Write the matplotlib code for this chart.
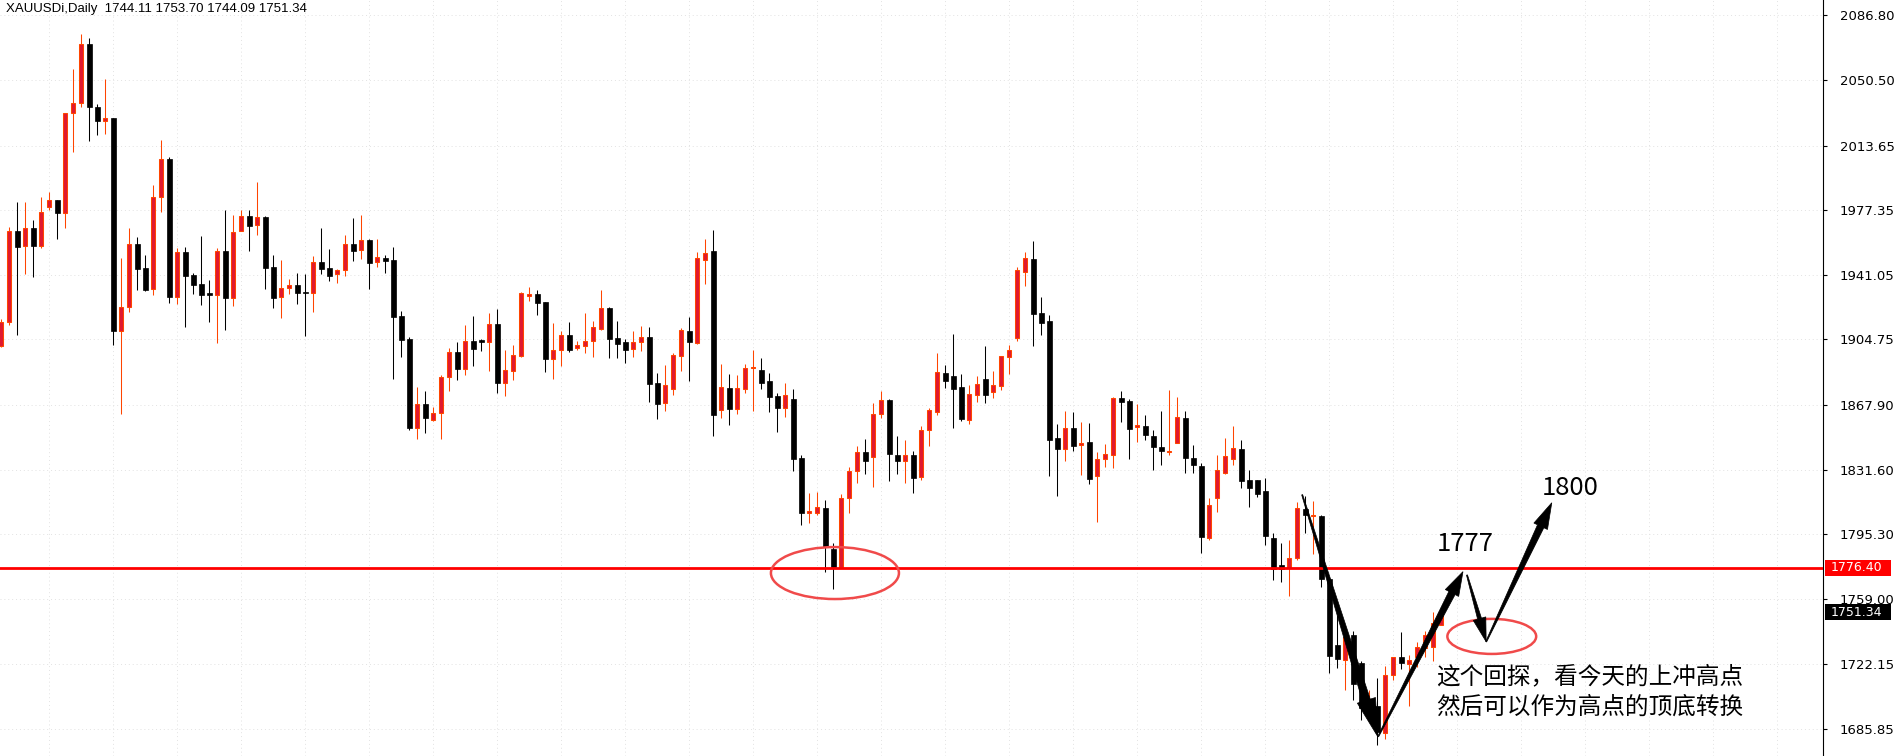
import numpy as np
import matplotlib
matplotlib.use("Agg")
import matplotlib.pyplot as plt
from matplotlib.patches import Polygon, Rectangle, Ellipse
from matplotlib.transforms import IdentityTransform, blended_transform_factory

# daily XAUUSDi candles (oldest first)
opens = [1901.1, 1914.4, 1965.5, 1957.1, 1967.2, 1957.5, 1979.0, 1983.0, 1976.0, 2031.9,
         2037.5, 2070.6, 2035.2, 2027.7, 2029.0, 1909.7, 1922.8, 1958.2, 1944.7, 1933.0,
         1984.7, 2006.0, 1928.5, 1953.8, 1940.8, 1935.9, 1930.3, 1929.9, 1954.3, 1928.2,
         1965.5, 1973.9, 1968.9, 1973.4, 1945.3, 1928.4, 1933.5, 1935.3, 1931.4, 1930.7,
         1948.1, 1944.9, 1941.3, 1943.6, 1958.4, 1954.8, 1960.6, 1948.1, 1950.3, 1949.4,
         1917.9, 1905.0, 1855.2, 1868.5, 1859.7, 1863.2, 1883.5, 1897.5, 1888.3, 1903.9,
         1904.4, 1903.5, 1913.4, 1880.5, 1887.2, 1895.6, 1929.0, 1930.3, 1925.8, 1893.9,
         1898.6, 1907.2, 1900.1, 1901.2, 1903.7, 1910.8, 1922.4, 1905.6, 1903.3, 1899.2,
         1903.1, 1906.1, 1880.3, 1868.8, 1877.1, 1895.6, 1909.5, 1902.7, 1949.2, 1954.4,
         1864.9, 1877.5, 1865.8, 1877.1, 1888.5, 1887.6, 1881.4, 1873.0, 1866.0, 1871.1,
         1838.1, 1807.5, 1807.4, 1809.8, 1786.8, 1777.1, 1815.5, 1830.6, 1841.3, 1838.5,
         1862.7, 1870.7, 1839.6, 1836.6, 1839.6, 1827.6, 1853.7, 1864.2, 1885.7, 1884.2,
         1877.9, 1859.3, 1873.4, 1882.4, 1875.4, 1878.4, 1894.7, 1905.4, 1942.5, 1949.8,
         1919.5, 1915.1, 1849.2, 1843.4, 1854.8, 1845.3, 1847.2, 1828.2, 1837.8, 1839.7,
         1871.7, 1870.2, 1855.4, 1856.0, 1850.5, 1844.4, 1841.6, 1846.8, 1860.6, 1838.2,
         1833.7, 1793.4, 1815.9, 1829.9, 1837.8, 1843.0, 1825.8, 1825.8, 1819.4, 1793.0,
         1777.9, 1776.2, 1781.8, 1809.7, 1805.3, 1805.6, 1770.4, 1733.1, 1724.7, 1738.5,
         1722.8, 1697.0, 1698.8, 1683.5, 1716.0, 1726.5, 1722.2, 1726.2, 1731.5, 1731.8,
         1744.11]
highs = [1916.1, 1967.8, 1982.0, 1982.0, 1971.9, 1984.8, 1987.6, 1983.0, 2031.9, 2056.6,
         2076.4, 2074.2, 2037.1, 2051.0, 2029.0, 1950.6, 1967.4, 1962.4, 1952.1, 1991.6,
         2016.9, 2007.3, 1956.2, 1956.7, 1941.9, 1962.9, 1938.2, 1956.1, 1977.5, 1974.7,
         1977.5, 1977.5, 1993.2, 1974.1, 1952.0, 1949.4, 1938.7, 1942.1, 1941.5, 1951.6,
         1967.4, 1955.6, 1944.3, 1963.4, 1973.0, 1974.7, 1961.2, 1961.0, 1952.2, 1956.7,
         1920.5, 1906.1, 1878.0, 1875.8, 1866.8, 1885.0, 1899.9, 1903.3, 1912.9, 1917.9,
         1905.2, 1919.6, 1921.9, 1898.8, 1901.6, 1931.4, 1934.2, 1932.5, 1925.8, 1914.0,
         1909.5, 1914.6, 1903.9, 1919.6, 1915.1, 1932.5, 1923.0, 1915.1, 1904.8, 1909.5,
         1912.3, 1911.7, 1885.9, 1890.4, 1897.1, 1911.2, 1917.4, 1953.9, 1961.2, 1966.2,
         1890.9, 1885.3, 1884.8, 1891.0, 1899.0, 1894.3, 1885.9, 1874.6, 1880.3, 1876.9,
         1839.6, 1818.3, 1819.0, 1814.5, 1790.4, 1817.9, 1832.9, 1844.7, 1848.6, 1869.0,
         1875.6, 1871.3, 1850.3, 1848.2, 1842.0, 1855.9, 1866.1, 1897.0, 1890.4, 1907.8,
         1885.4, 1879.2, 1884.2, 1901.1, 1887.1, 1895.3, 1901.5, 1945.3, 1953.9, 1960.1,
         1928.6, 1918.3, 1857.3, 1864.4, 1864.0, 1858.4, 1857.8, 1841.4, 1846.0, 1872.4,
         1875.8, 1871.3, 1868.5, 1862.3, 1853.9, 1864.6, 1876.4, 1872.4, 1864.6, 1845.5,
         1835.4, 1815.9, 1839.9, 1849.4, 1856.2, 1848.3, 1831.4, 1825.8, 1826.9, 1796.0,
         1790.4, 1792.1, 1813.4, 1816.8, 1814.2, 1806.0, 1771.0, 1749.9, 1740.0, 1741.1,
         1724.0, 1707.8, 1714.7, 1721.3, 1726.5, 1740.4, 1727.5, 1735.0, 1741.2, 1751.8,
         1753.70]
lows = [1900.4, 1913.1, 1907.5, 1941.6, 1940.1, 1956.2, 1977.7, 1961.2, 1967.6, 2010.3,
        2035.6, 2016.5, 2019.7, 2020.2, 1901.9, 1862.9, 1920.4, 1932.6, 1932.0, 1930.0,
        1976.4, 1925.5, 1924.9, 1912.0, 1930.3, 1924.1, 1914.6, 1902.9, 1910.1, 1923.7,
        1965.5, 1954.6, 1963.6, 1933.3, 1922.6, 1917.0, 1930.5, 1924.9, 1906.9, 1920.4,
        1941.7, 1937.8, 1936.7, 1940.4, 1949.0, 1950.1, 1933.3, 1945.6, 1942.3, 1882.5,
        1895.1, 1854.1, 1849.0, 1852.4, 1858.9, 1849.0, 1876.0, 1882.1, 1885.0, 1890.0,
        1898.4, 1887.2, 1874.8, 1873.2, 1882.0, 1895.1, 1926.5, 1918.5, 1886.5, 1882.5,
        1890.0, 1897.9, 1899.0, 1897.1, 1895.1, 1910.1, 1894.5, 1894.5, 1891.7, 1895.1,
        1898.5, 1869.8, 1860.0, 1864.7, 1873.7, 1887.2, 1881.6, 1902.4, 1936.1, 1850.7,
        1860.8, 1856.9, 1863.0, 1874.5, 1864.7, 1877.1, 1864.0, 1852.7, 1861.3, 1831.0,
        1800.7, 1801.8, 1805.9, 1774.2, 1764.3, 1776.3, 1807.4, 1823.9, 1829.3, 1822.0,
        1860.8, 1825.4, 1828.9, 1824.3, 1818.6, 1825.8, 1845.1, 1862.5, 1877.7, 1855.2,
        1859.1, 1857.5, 1869.8, 1869.3, 1872.1, 1876.6, 1885.6, 1903.7, 1935.0, 1901.3,
        1907.3, 1828.2, 1817.0, 1836.7, 1842.3, 1828.6, 1823.7, 1802.4, 1833.3, 1832.7,
        1858.4, 1837.8, 1847.3, 1848.5, 1831.6, 1834.4, 1840.0, 1846.8, 1829.9, 1829.9,
        1785.0, 1792.3, 1808.0, 1829.4, 1834.4, 1821.3, 1810.8, 1816.4, 1789.5, 1769.8,
        1768.7, 1760.8, 1780.9, 1795.8, 1784.2, 1765.5, 1717.2, 1720.0, 1707.8, 1702.2,
        1691.0, 1692.0, 1676.9, 1680.1, 1713.4, 1719.4, 1699.0, 1720.5, 1726.2, 1724.1,
        1744.09]
closes = [1914.4, 1965.5, 1956.9, 1967.2, 1957.5, 1976.2, 1983.0, 1976.0, 2031.9, 2037.5,
          2070.6, 2035.6, 2027.7, 2029.0, 1909.7, 1922.8, 1958.2, 1944.6, 1932.6, 1984.7,
          2006.0, 1928.5, 1953.8, 1940.5, 1935.5, 1929.9, 1930.0, 1954.3, 1928.2, 1965.1,
          1973.9, 1968.7, 1973.4, 1945.1, 1928.2, 1933.5, 1935.2, 1931.0, 1931.1, 1948.1,
          1944.5, 1940.6, 1943.6, 1958.2, 1954.6, 1960.4, 1947.9, 1950.9, 1949.0, 1917.5,
          1904.6, 1855.0, 1868.5, 1860.6, 1863.4, 1883.5, 1897.5, 1888.3, 1903.7, 1899.6,
          1903.5, 1913.4, 1880.5, 1887.4, 1895.8, 1930.7, 1930.1, 1925.4, 1893.9, 1898.6,
          1907.1, 1898.8, 1901.4, 1903.7, 1911.6, 1922.2, 1905.2, 1902.4, 1899.0, 1903.1,
          1905.9, 1879.9, 1868.7, 1879.0, 1895.8, 1909.9, 1903.5, 1950.3, 1953.1, 1862.5,
          1877.8, 1865.8, 1877.3, 1888.5, 1889.3, 1880.5, 1872.6, 1866.4, 1873.5, 1837.7,
          1807.4, 1808.1, 1810.4, 1787.9, 1777.1, 1815.5, 1830.6, 1841.3, 1836.6, 1862.7,
          1870.5, 1840.5, 1836.6, 1839.6, 1827.1, 1853.7, 1865.0, 1886.3, 1881.6, 1877.1,
          1860.1, 1873.9, 1879.6, 1873.8, 1879.0, 1895.3, 1898.7, 1943.6, 1950.4, 1919.3,
          1914.2, 1848.5, 1843.4, 1854.8, 1845.1, 1846.4, 1826.6, 1837.4, 1840.2, 1871.7,
          1869.8, 1854.7, 1856.7, 1851.3, 1844.5, 1842.3, 1842.2, 1861.2, 1838.2, 1834.4,
          1794.0, 1811.6, 1831.2, 1839.1, 1843.6, 1825.4, 1821.5, 1818.1, 1794.5, 1776.0,
          1776.0, 1781.8, 1809.9, 1805.9, 1805.9, 1770.4, 1727.1, 1725.1, 1737.8, 1711.0,
          1697.5, 1702.5, 1684.4, 1716.0, 1726.5, 1722.8, 1724.7, 1731.8, 1738.5, 1745.3,
          1751.34]

price_ticks = [2086.80, 2050.50, 2013.65, 1977.35, 1941.05, 1904.75,
               1867.90, 1831.60, 1795.30, 1759.00, 1722.15, 1685.85]
level_line = 1776.40
last_price = 1751.34
header = "XAUUSDi,Daily  1744.11 1753.70 1744.09 1751.34"

# hand drawn annotations: (candle index, price)
circle_low = (104.2, 1773.5)
circle_pullback = (186.3, 1737.9)
arrow_paths = [((162.6, 1817.5), (172.05, 1681.6)),
               ((172.1, 1681.6), (182.7, 1774.3)),
               ((183.2, 1772.4), (185.6, 1734.9)),
               ((185.6, 1734.9), (193.8, 1813.0))]
label_1777 = (179.4, 1786.1, "1777")
label_1800 = (192.55, 1817.4, "1800")
note_lines = ["这个回探，看今天的上冲高点", "然后可以作为高点的顶底转换"]
note_pos = [(179.3, 1715.1), (179.3, 1698.2)]

plt.rcParams['font.family'] = ['DejaVu Sans']
W, H = 1899, 756
fig = plt.figure(figsize=(W / 100, H / 100), dpi=100)
ax = fig.add_axes([0, 0, 1823 / W, 1])

o = np.array(opens); h = np.array(highs); l = np.array(lows); c = np.array(closes)
x = np.arange(len(o))
up = c > o
red_fill = '#e0192f'
red_edge = '#ff4500'

ax.set_xlim(-0.16, 227.7)
ax.set_ylim(1670.7, 2095.5)

# grid
for v in price_ticks:
    ax.axhline(v, color='#e2e2e2', lw=0.7, ls=(0, (1, 3)), zorder=0)
for gx in range(6, 228, 8):
    ax.axvline(gx, color='#e2e2e2', lw=0.7, ls=(0, (1, 3)), zorder=0)

# wicks
ax.vlines(x[up], l[up], h[up], color=red_edge, lw=0.75, zorder=2)
ax.vlines(x[~up], l[~up], h[~up], color='black', lw=0.75, zorder=2)
# bodies
body_lo = np.minimum(o, c)
body_h = np.maximum(np.abs(c - o), 0.6)
ax.bar(x[up], body_h[up], bottom=body_lo[up], width=0.5, color=red_fill,
       edgecolor=red_edge, linewidth=0.75, zorder=3)
ax.bar(x[~up], body_h[~up], bottom=body_lo[~up], width=0.6, color='black',
       edgecolor='black', linewidth=0.5, zorder=3)

# horizontal level
ax.axhline(level_line, color='#ff0000', lw=2.0, zorder=4)

# ellipses
ax.add_patch(Ellipse(circle_low, 16.0, 29.2, fill=False, ec='#f04a4a', lw=1.8, zorder=5))
ax.add_patch(Ellipse(circle_pullback, 11.1, 19.7, fill=False, ec='#f04a4a', lw=1.8, zorder=5))


def wedge_arrow(p_start, p_end, w_tail, w_shaft, head_w, head_len):
    p0 = ax.transData.transform(p_start)
    p1 = ax.transData.transform(p_end)
    d = p1 - p0
    u = d / np.hypot(*d)
    n = np.array([-u[1], u[0]])
    base = p1 - u * head_len
    pts = [p0 + n * w_tail / 2, base + n * w_shaft / 2, base + n * head_w / 2, p1,
           base - n * head_w / 2, base - n * w_shaft / 2, p0 - n * w_tail / 2]
    ax.add_patch(Polygon(pts, closed=True, fc='black', ec='black', lw=0.5,
                         transform=IdentityTransform(), zorder=6))


wedge_arrow(*arrow_paths[0], 1.0, 8, 19, 38)
wedge_arrow(*arrow_paths[1], 1.0, 7, 15, 24)
wedge_arrow(*arrow_paths[2], 1.0, 4, 13, 24)
wedge_arrow(*arrow_paths[3], 1.0, 7, 15, 26)

cjk = ['Noto Sans CJK SC', 'DejaVu Sans']
for lx, ly, s in (label_1777, label_1800):
    ax.text(lx, ly, s, fontsize=18.5, family=cjk, color='black', va='baseline', ha='left', zorder=7)
for (nx, ny), s in zip(note_pos, note_lines):
    ax.text(nx, ny, s, fontsize=17, family=cjk, color='black', va='center', ha='left', zorder=7)

# header
ax.text(6 / 1823, 1 - 3 / H, header, transform=ax.transAxes, fontsize=9.5,
        family=['Liberation Sans'], va='top', ha='left', zorder=7)

# price axis on the right
for side in ('left', 'top', 'bottom'):
    ax.spines[side].set_visible(False)
ax.spines['right'].set_color('black')
ax.spines['right'].set_linewidth(0.8)
ax.set_xticks([])
ax.yaxis.tick_right()
ax.set_yticks(price_ticks)
ax.set_yticklabels([f"{v:.2f}" for v in price_ticks])
ax.tick_params(axis='y', length=3, width=0.8, pad=9, labelsize=9.5, colors='black')

bt = blended_transform_factory(ax.transAxes, ax.transData)
px_price = H / (2095.5 - 1670.7)
for val, col in ((level_line, '#ff0000'), (last_price, 'black')):
    hgt = 16 / px_price
    ax.add_patch(Rectangle((1825 / 1823, val - hgt / 2), 66 / 1823, hgt, transform=bt,
                           fc=col, ec='none', clip_on=False, zorder=8))
    ax.text(1831 / 1823, val, f"{val:.2f}", transform=bt, color='white', fontsize=9,
            va='center', ha='left', clip_on=False, zorder=9)

fig.savefig("out.png", dpi=100, facecolor='white')
